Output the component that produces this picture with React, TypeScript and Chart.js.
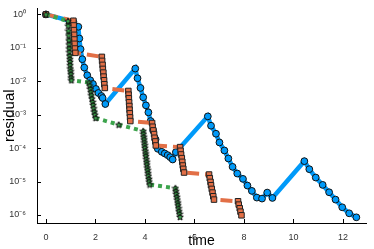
import React, { useEffect, useRef } from 'react';
import { Chart, registerables } from 'chart.js';
Chart.register(...registerables);

// time values and log10(residual) values
const blueTime = [0, 1.11, 1.31, 1.35, 1.40, 1.47, 1.55, 1.67, 1.79, 1.90, 2.02, 2.12, 2.24, 2.29, 2.40,
  3.61, 3.70, 3.82, 3.93, 4.04, 4.14, 4.23, 4.33, 4.43, 4.52, 4.68, 4.80, 4.92, 5.02, 5.12, 5.25,
  6.54, 6.67, 6.87, 7.01, 7.21, 7.37, 7.54, 7.73, 7.96, 8.14, 8.32, 8.52, 8.73, 8.94, 9.15,
  10.44, 10.64, 10.90, 11.18, 11.44, 11.70, 11.97, 12.25, 12.54];
const blueLog10 = [0, -0.22, -0.37, -0.72, -1.04, -1.34, -1.59, -1.82, -1.97, -2.08, -2.23, -2.35, -2.44, -2.50, -2.68,
  -1.62, -1.91, -2.20, -2.48, -2.72, -2.93, -3.19, -3.47, -3.74, -4.02, -4.11, -4.16, -4.21, -4.27, -4.34, -4.12,
  -3.05, -3.33, -3.57, -3.83, -4.07, -4.31, -4.56, -4.76, -4.92, -5.12, -5.28, -5.48, -5.51, -5.33, -5.49,
  -4.39, -4.63, -4.88, -5.10, -5.32, -5.54, -5.77, -5.95, -6.07];

const orangeTime = [0,
  1.11, 1.12, 1.13, 1.14, 1.15, 1.16, 1.17, 1.19,
  2.26, 2.27, 2.29, 2.30, 2.32, 2.33, 2.35, 2.36, 2.38,
  3.33, 3.34, 3.35, 3.36, 3.37, 3.38, 3.39, 3.40, 3.41,
  4.29, 4.31, 4.34, 4.37, 4.39, 4.42, 4.44,
  5.42, 5.44, 5.46, 5.49, 5.51, 5.53, 5.55, 5.58,
  6.59, 6.62, 6.65, 6.67, 6.70, 6.73, 6.76, 6.79,
  7.76, 7.79, 7.83, 7.86, 7.90];
const orangeLog10 = [0,
  -0.19, -0.33, -0.47, -0.61, -0.75, -0.88, -1.02, -1.15,
  -1.27, -1.39, -1.51, -1.63, -1.74, -1.86, -1.97, -2.09, -2.20,
  -2.29, -2.40, -2.51, -2.63, -2.74, -2.85, -2.96, -3.08, -3.19,
  -3.25, -3.36, -3.47, -3.58, -3.69, -3.80, -3.92,
  -3.97, -4.08, -4.19, -4.30, -4.41, -4.52, -4.62, -4.73,
  -4.79, -4.90, -5.01, -5.11, -5.22, -5.33, -5.44, -5.54,
  -5.59, -5.69, -5.80, -5.90, -6.01];

const greenTime = [0,
  0.89, 0.90, 0.91, 0.92, 0.93, 0.94, 0.945, 0.95, 0.96, 0.97, 0.975, 0.98, 0.99, 1.00, 1.01, 1.02, 1.03,
  1.75, 1.77, 1.80, 1.82, 1.84, 1.86, 1.89, 1.91, 1.93, 1.96, 1.98, 2.01,
  2.94,
  3.93, 3.94, 3.95, 3.97, 3.98, 3.99, 4.00, 4.02, 4.03, 4.04, 4.06, 4.07, 4.08, 4.10, 4.11, 4.13, 4.14, 4.16, 4.17, 4.19,
  5.23, 5.25, 5.27, 5.29, 5.31, 5.33, 5.34, 5.36, 5.38, 5.40, 5.42];
const greenLog10 = [0,
  -0.20, -0.34, -0.49, -0.63, -0.78, -0.90, -1.02, -1.13, -1.24, -1.34, -1.42, -1.52, -1.62, -1.70, -1.79, -1.89, -1.97,
  -2.04, -2.13, -2.23, -2.33, -2.42, -2.52, -2.62, -2.71, -2.81, -2.91, -3.00, -3.10,
  -3.30,
  -3.49, -3.57, -3.66, -3.74, -3.83, -3.91, -3.99, -4.08, -4.16, -4.24, -4.33, -4.41, -4.49, -4.58, -4.66, -4.75, -4.83, -4.92, -5.00, -5.09,
  -5.20, -5.29, -5.37, -5.46, -5.54, -5.63, -5.71, -5.80, -5.89, -5.97, -6.06];

const xTicks = [0, 2, 4, 6, 8, 10, 12];
const yTickExponents = [-6, -5, -4, -3, -2, -1, 0];

const BLUE = '#009AF9';
const ORANGE = '#E26F46';
const GREEN = '#3DA44D';

const SUP: Record<string, string> = { '-': '⁻', '0': '⁰', '1': '¹', '2': '²', '3': '³', '4': '⁴', '5': '⁵', '6': '⁶', '7': '⁷', '8': '⁸', '9': '⁹' };
const sup = (n: number) => String(n).split('').map((c) => SUP[c] || c).join('');

function toPoints(t: number[], l: number[]) {
  return t.map((x, i) => ({ x, y: Math.pow(10, l[i]) }));
}

function makeStar(size: number, fill: string, stroke: string) {
  const c = document.createElement('canvas');
  c.width = size;
  c.height = size;
  const ctx = c.getContext('2d')!;
  const cx = size / 2, cy = size / 2 + 0.3;
  const R = size / 2 - 0.6, r = R * 0.45;
  ctx.beginPath();
  for (let i = 0; i < 10; i++) {
    const a = -Math.PI / 2 + (i * Math.PI) / 5;
    const rad = i % 2 ? r : R;
    ctx.lineTo(cx + rad * Math.cos(a), cy + rad * Math.sin(a));
  }
  ctx.closePath();
  ctx.fillStyle = fill;
  ctx.fill();
  ctx.strokeStyle = stroke;
  ctx.lineWidth = 1;
  ctx.stroke();
  return c;
}

const inwardTicks = {
  id: 'inwardTicks',
  beforeDatasetsDraw(chart: any) {
    const { ctx, chartArea } = chart;
    const x = chart.scales.x, y = chart.scales.y;
    ctx.save();
    ctx.strokeStyle = '#000';
    ctx.lineWidth = 1;
    x.ticks.forEach((t: any) => {
      const px = Math.round(x.getPixelForValue(t.value)) + 0.5;
      ctx.beginPath();
      ctx.moveTo(px, chartArea.bottom);
      ctx.lineTo(px, chartArea.bottom - 4);
      ctx.stroke();
    });
    y.ticks.forEach((t: any) => {
      const py = Math.round(y.getPixelForValue(t.value)) + 0.5;
      ctx.beginPath();
      ctx.moveTo(chartArea.left, py);
      ctx.lineTo(chartArea.left + 4, py);
      ctx.stroke();
    });
    ctx.restore();
  },
};

export default function App() {
  const ref = useRef<HTMLCanvasElement>(null);
  useEffect(() => {
    document.body.style.margin = '0';
    const star = makeStar(8, GREEN, '#111');
    const chart = new Chart(ref.current!, {
      type: 'scatter',
      data: {
        datasets: [
          {
            data: toPoints(greenTime, greenLog10),
            showLine: true,
            borderColor: GREEN,
            borderWidth: 4,
            borderDash: [4, 4],
            pointStyle: star as any,
            pointRadius: 4,
            pointBorderColor: '#111',
          } as any,
          {
            data: toPoints(orangeTime, orangeLog10),
            showLine: true,
            borderColor: ORANGE,
            borderWidth: 4,
            borderDash: [12, 6],
            pointStyle: 'rect',
            pointRadius: 3.9,
            pointBackgroundColor: ORANGE,
            pointBorderColor: '#222',
            pointBorderWidth: 1,
          },
          {
            data: toPoints(blueTime, blueLog10),
            showLine: true,
            borderColor: BLUE,
            borderWidth: 4.5,
            pointStyle: 'circle',
            pointRadius: 3.4,
            pointBackgroundColor: BLUE,
            pointBorderColor: '#111',
            pointBorderWidth: 1,
          },
        ],
      },
      options: {
        animation: false,
        responsive: false,
        layout: { padding: { top: 2, right: 2, left: 0, bottom: 0 } },
        plugins: { legend: { display: false }, tooltip: { enabled: false } },
        scales: {
          x: {
            type: 'linear',
            min: -0.36,
            max: 12.93,
            grid: { display: false },
            border: { display: true, color: '#000', width: 1 },
            afterBuildTicks: (s: any) => { s.ticks = xTicks.map((v) => ({ value: v })); },
            afterFit: (s: any) => { s.height = 26; },
            ticks: { padding: 1, color: '#333', font: { family: 'Liberation Sans', size: 9 } },
            title: { display: true, text: 'time', color: '#000', font: { family: 'Liberation Sans', size: 14, lineHeight: 1 }, padding: { top: 0, bottom: 1 } },
          },
          y: {
            type: 'logarithmic',
            min: Math.pow(10, -6.24),
            max: Math.pow(10, 0.18),
            grid: { display: false },
            border: { display: true, color: '#000', width: 1 },
            afterBuildTicks: (s: any) => { s.ticks = yTickExponents.map((e) => ({ value: Math.pow(10, e) })); },
            afterFit: (s: any) => { s.width = 37; },
            ticks: {
              padding: 3,
              color: '#333',
              font: { family: 'Liberation Sans', size: 9 },
              callback: (v: any) => '10' + sup(Math.round(Math.log10(Number(v)))),
            },
            title: { display: true, text: 'residual', color: '#000', font: { family: 'Liberation Sans', size: 15, lineHeight: 1 }, padding: { top: 2, bottom: 0 } },
          },
        },
      },
      plugins: [inwardTicks],
    });
    return () => chart.destroy();
  }, []);
  return (
    <div style={{ width: 374, height: 249 }}>
      <canvas ref={ref} width={374} height={249} style={{ display: 'block' }} />
    </div>
  );
}
